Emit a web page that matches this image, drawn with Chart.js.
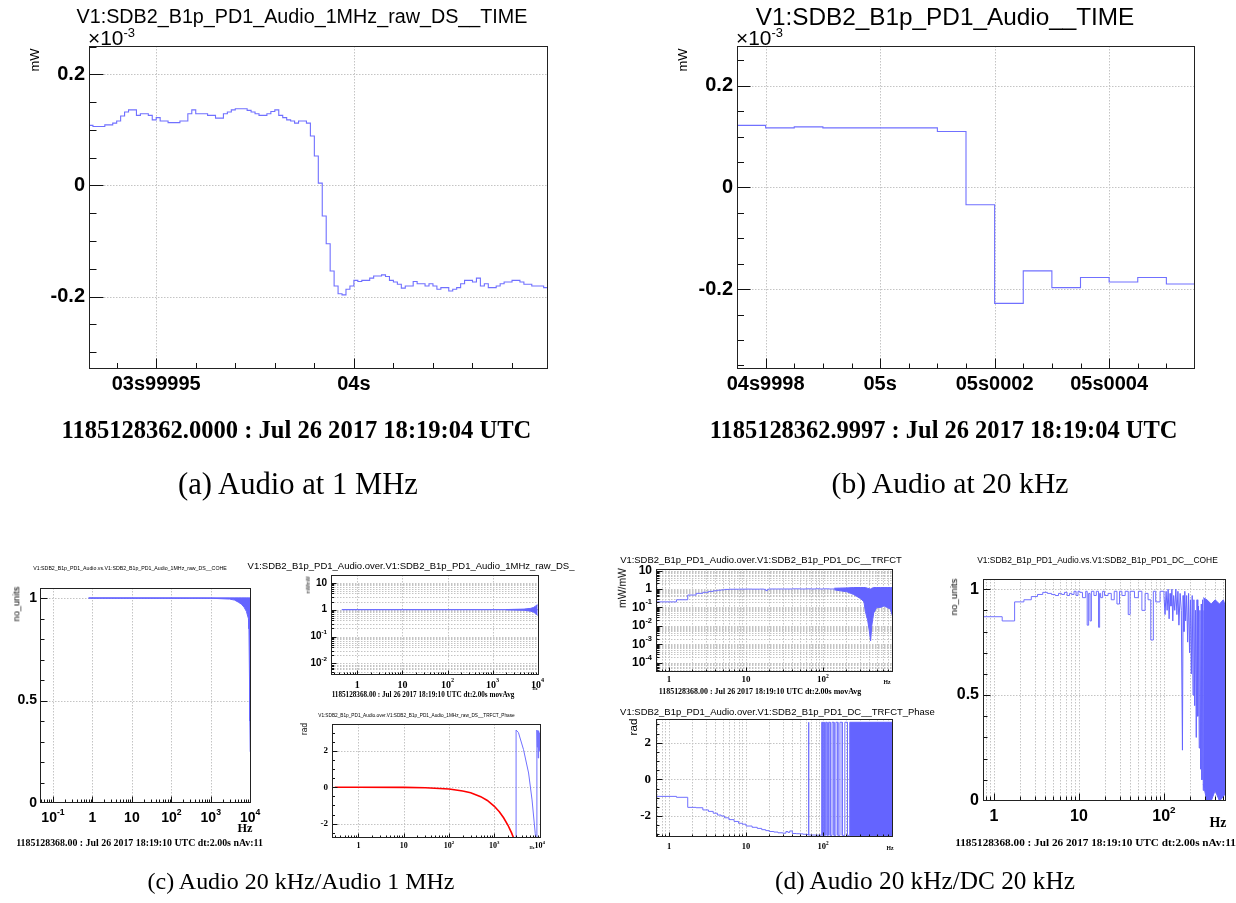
<!DOCTYPE html>
<html><head><meta charset="utf-8">
<script src="https://cdn.jsdelivr.net/npm/chart.js@4.4.1/dist/chart.umd.min.js"></script>
<style>
html,body{margin:0;padding:0;background:#fff}
body{width:1236px;height:903px;overflow:hidden;position:relative}
canvas{position:absolute;left:0;top:0}
.t{position:absolute;white-space:nowrap;line-height:1;color:#000}
.t sup{font-size:0.62em;vertical-align:0.62em;line-height:0}
</style></head><body>
<script>
// ---------------- DATA ----------------
// (a) Audio 1 MHz raw DS time series, 1 µs samples, time in µs relative to 04s
const aStartUs = -67;
const aStepUs = 1;
const aValues = [0.108,0.106,0.106,0.106,0.109,0.109,0.112,0.116,0.125,0.132,
0.136,0.136,0.126,0.129,0.129,0.126,0.118,0.122,0.116,0.116,
0.113,0.113,0.113,0.116,0.116,0.129,0.136,0.129,0.129,0.129,
0.126,0.126,0.121,0.121,0.129,0.132,0.136,0.138,0.138,0.138,
0.135,0.132,0.129,0.126,0.126,0.129,0.133,0.136,0.126,0.122,
0.118,0.116,0.112,0.116,0.116,0.112,0.089,0.053,0.004,-0.055,
-0.105,-0.154,-0.181,-0.195,-0.197,-0.187,-0.181,-0.171,-0.173,-0.171,
-0.171,-0.167,-0.163,-0.163,-0.161,-0.164,-0.171,-0.174,-0.178,-0.185,
-0.181,-0.181,-0.173,-0.177,-0.177,-0.181,-0.177,-0.181,-0.187,-0.184,
-0.184,-0.190,-0.187,-0.184,-0.177,-0.171,-0.171,-0.174,-0.167,-0.181,
-0.177,-0.184,-0.184,-0.181,-0.177,-0.174,-0.174,-0.171,-0.171,-0.174,
-0.178,-0.178,-0.181,-0.181,-0.181,-0.184];
const aXTickVals = [-50, 0];
const aXTickLabels = ['03s99995', '04s'];
const aYTickVals = [0.2, 0, -0.2];
const aYTickLabels = ['0.2', '0', '-0.2'];

// (b) Audio 20 kHz time series, 50 µs bins, µs relative to 05s
const bStartUs = -250;
const bStepUs = 50;
const bValues = [0.122,0.117,0.119,0.117,0.117,0.117,0.117,0.110,-0.034,-0.228,-0.164,-0.197,-0.177,-0.186,-0.177,-0.190];
const bXTickVals = [-200, 0, 200, 400];
const bXTickLabels = ['04s9998', '05s', '05s0002', '05s0004'];
const bYTickVals = [0.2, 0, -0.2];
const bYTickLabels = ['0.2', '0', '-0.2'];

// (c) left: coherence Audio vs Audio 1MHz
const cCoheLineF = [0.8, 10000];
const cCoheLineV = [1, 1];
const cCoheEnvF  = [0.8, 1000, 3000, 4000, 5000, 6000, 7000, 8000, 9000, 9300, 9600, 9800, 10000];
const cCoheEnvLo = [1, 0.999, 0.995, 0.99, 0.98, 0.97, 0.955, 0.935, 0.9, 0.85, 0.6, 0.4, 0.25];
const cCoheEnvHi = [1, 1, 1, 1, 1, 1, 1, 1, 1, 1, 1, 1, 1];

// (c) right top: transfer function magnitude Audio / Audio 1MHz
const cMagLineF = [0.45, 10000];
const cMagLineV = [1, 1];
const cMagEnvF  = [2000, 5000, 7000, 8000, 9000, 9500, 10000];
const cMagEnvLo = [0.99, 0.95, 0.88, 0.82, 0.72, 0.65, 0.62];
const cMagEnvHi = [1.01, 1.05, 1.12, 1.2, 1.35, 1.5, 1.5];

// (c) right bottom: transfer function phase
const cPhaseRedF = [0.3, 1, 10, 30, 100, 200, 300, 500, 700, 1000, 1300, 1600, 2000, 2400, 2800, 3020];
const cPhaseRedV = [0, 0, -0.01, -0.03, -0.1, -0.21, -0.31, -0.52, -0.73, -1.05, -1.36, -1.68, -2.09, -2.51, -2.93, -3.14];
const cPhaseBlueF = [3020, 3020, 3400, 4400, 5700, 6800, 8000, 8500, 8700, 8700, 8900, 9100, 9300, 9500, 9700, 9900];
const cPhaseBlueV = [-3.14, 3.14, 3.0, 2.07, 0.78, -0.7, -2.55, -3.14, -3.14, 3.14, 2.2, 3.1, 1.6, 3.1, 2.0, 3.0];

// (d) left top: transfer function magnitude Audio / DC
const dMagF = [0.6, 1.25, 1.75, 2.25, 2.75, 3.25, 3.75, 4.25, 4.75, 5.25, 6, 8, 10, 12, 15, 17, 18, 19, 20, 25, 30, 40, 50, 60, 70, 80, 90, 100, 120, 140];
const dMagV = [0.2, 0.26, 0.47, 0.58, 0.66, 0.74, 0.8, 0.86, 0.9, 0.95, 0.97, 0.98, 0.99, 0.98, 0.99, 0.96, 0.82, 0.97, 1.0, 1.0, 1.0, 1.02, 1.0, 1.02, 1.0, 1.03, 1.0, 1.02, 1.0, 1.04];
const dMagEnvF  = [140, 205, 250, 308, 340, 355, 380, 400, 415, 430, 455, 500, 560, 620, 680, 750, 830];
const dMagEnvLo = [0.9, 0.7, 0.5, 0.3, 0.2, 0.06, 0.02, 0.005, 0.0015, 0.01, 0.05, 0.1, 0.1, 0.12, 0.1, 0.08, 0.02];
const dMagEnvHi = [1.1, 1.15, 1.2, 1.2, 1.2, 1.2, 1.1, 1.05, 1.0, 1.1, 1.2, 1.2, 1.2, 1.2, 1.2, 1.2, 1.2];

// (d) left bottom: transfer function phase Audio / DC
const dPhaseF = [0.6, 1.25, 1.75, 2.25, 2.75, 3.25, 3.75, 4.25, 4.75, 5.25, 6, 7, 8, 9, 10, 12, 14, 16, 18, 20, 23, 26, 30, 33, 35, 37, 40, 45, 50, 55, 60, 64, 80, 96];
const dPhaseV = [-0.93, -0.98, -1.53, -1.55, -1.67, -1.75, -1.85, -1.95, -2.0, -2.1, -2.2, -2.3, -2.4, -2.45, -2.55, -2.62, -2.68, -2.75, -2.8, -2.85, -2.88, -2.92, -2.94, -2.85, -2.9, -2.82, -2.96, -2.97, -2.98, -3.0, -3.02, -3.04, -3.05, -3.06];
const dPhaseSpikeF = [65];
const dPhaseWrapF = [96, 99, 101, 104, 108, 113, 118, 124, 131, 139, 147, 156, 166, 178, 192, 208, 222];
const dPhaseBandF = [222, 900];
const dPhaseBandLo = [-3.08, -3.08];
const dPhaseBandHi = [3.12, 3.12];

// (d) right: coherence Audio vs DC
const dCoheF = [0.74, 1.25, 1.75, 2.25, 2.75, 3.25, 3.75, 4.25, 4.75, 5.25, 5.75, 6.25, 6.75, 7.25, 7.75, 8.25, 8.75, 9.25, 9.75, 10.25, 11, 12, 12.5, 13, 13.5, 14, 15, 16, 17, 17.5, 18, 19, 20, 22, 24, 26, 28, 30, 32, 35, 38, 40, 45, 50, 55, 60, 65, 70, 75, 80, 90, 100];
const dCoheV = [0.87, 0.85, 0.94, 0.95, 0.965, 0.975, 0.985, 0.98, 0.975, 0.97, 0.98, 0.975, 0.985, 0.97, 0.98, 0.975, 0.99, 0.97, 0.99, 0.985, 0.96, 0.99, 0.83, 0.98, 0.85, 0.99, 0.97, 0.99, 0.82, 0.98, 0.96, 0.99, 0.97, 0.98, 0.95, 0.99, 0.93, 0.99, 0.97, 0.99, 0.88, 0.99, 0.96, 0.99, 0.9, 0.98, 0.95, 0.76, 0.99, 0.94, 0.99, 0.97];
const dCoheNoiseF = [100, 103, 106, 109, 112, 115, 118, 121, 124, 127, 130, 134, 138, 142, 146, 150, 155, 160, 165, 168, 172, 176, 180, 185, 190, 195, 200, 205, 210, 215, 220, 225, 230, 235, 240, 245, 250, 255, 260, 265, 270, 275, 280, 285, 290, 295];
const dCoheNoiseV = [0.97, 0.88, 0.99, 0.9, 1.0, 0.86, 0.98, 0.92, 1.0, 0.85, 0.97, 0.9, 1.0, 0.88, 0.99, 0.83, 0.98, 0.9, 0.24, 0.97, 0.8, 0.99, 0.85, 0.97, 0.75, 0.98, 0.7, 0.95, 0.6, 0.97, 0.5, 0.95, 0.45, 0.9, 0.3, 0.95, 0.4, 0.92, 0.25, 0.9, 0.15, 0.93, 0.1, 0.95, 0.05, 0.9];
const dCoheEnvF  = [290, 320, 360, 400, 450, 500, 545];
const dCoheEnvLo = [0.08, 0.0, 0.0, 0.05, 0.0, 0.02, 0.05];
const dCoheEnvHi = [0.96, 0.95, 0.93, 0.95, 0.93, 0.95, 0.9];

// ---------------- HELPERS ----------------
const W = 1236, H = 903;
const SANS = "'Liberation Sans', Arial, sans-serif";
const SERIF = "'Liberation Serif', 'Times New Roman', serif";
const BLUE = 'rgb(112,112,255)';
const FILLB = 'rgb(100,100,255)';

function pts(xs, ys) { return xs.map((x, i) => ({x, y: ys[i]})); }
function binPts(start, step, vals) {
  const p = vals.map((v, i) => ({x: start + i * step, y: v}));
  p.push({x: start + vals.length * step, y: vals[vals.length - 1]});
  return p;
}
function linTicks(min, max, step) {
  const a = [];
  for (let k = Math.ceil(min / step - 1e-9); k * step <= max + 1e-9; k++) a.push(+(k * step).toFixed(10));
  return a;
}
function logMajor(lo, hi) {
  const a = [];
  for (let d = Math.ceil(Math.log10(lo) - 1e-9); d <= Math.floor(Math.log10(hi) + 1e-9); d++) a.push(Math.pow(10, d));
  return a;
}
function logMinor(lo, hi) {
  const a = [];
  for (let d = Math.floor(Math.log10(lo)) - 1; d <= Math.ceil(Math.log10(hi)); d++)
    for (let k = 2; k <= 9; k++) { const v = k * Math.pow(10, d); if (v >= lo && v <= hi) a.push(v); }
  return a;
}
function decLabel(v) {
  const e = Math.round(Math.log10(v));
  if (e === 0) return {t: '1'};
  if (e === 1) return {t: '10'};
  return {t: '10', e: String(e)};
}
function line(d, color, w, extra) {
  return Object.assign({data: d, borderColor: color, backgroundColor: color, borderWidth: w || 1, pointRadius: 0, fill: false, tension: 0}, extra || {});
}
function envelope(f, lo, hi, color) {
  return [line(pts(f, lo), color, 1), line(pts(f, hi), color, 1, {fill: '-1'})];
}

const rootDecor = {
  id: 'rootDecor',
  beforeDatasetsDraw(chart, args, o) {
    const {ctx, chartArea: a} = chart;
    const x = chart.scales.x, y = chart.scales.y;
    ctx.save();
    ctx.strokeStyle = o.gridColor || '#c4c4c4';
    ctx.lineWidth = 1;
    ctx.setLineDash(o.gridDash || [1.5, 1.5]);
    ctx.beginPath();
    for (const v of (o.xGrid || [])) {
      const p = Math.round(x.getPixelForValue(v)) + 0.5;
      if (p <= a.left + 1 || p >= a.right - 1) continue;
      ctx.moveTo(p, a.top); ctx.lineTo(p, a.bottom);
    }
    for (const v of (o.yGrid || [])) {
      const p = Math.round(y.getPixelForValue(v)) + 0.5;
      if (p <= a.top + 1 || p >= a.bottom - 1) continue;
      ctx.moveTo(a.left, p); ctx.lineTo(a.right, p);
    }
    ctx.stroke();
    ctx.restore();
  },
  afterDatasetsDraw(chart, args, o) {
    const {ctx, chartArea: a} = chart;
    const x = chart.scales.x, y = chart.scales.y;
    const L = Math.round(a.left) + 0.5, R = Math.round(a.right) - 0.5, T = Math.round(a.top) + 0.5, B = Math.round(a.bottom) - 0.5;
    ctx.save();
    ctx.setLineDash([]);
    ctx.strokeStyle = '#111';
    ctx.lineWidth = 1;
    ctx.beginPath();
    const tk = o.tick;
    const drawX = (vals, len) => { for (const v of vals) { const p = Math.round(x.getPixelForValue(v)) + 0.5; if (p < L || p > R) continue; ctx.moveTo(p, B); ctx.lineTo(p, B - len); } };
    const drawY = (vals, len) => { for (const v of vals) { const p = Math.round(y.getPixelForValue(v)) + 0.5; if (p < T || p > B) continue; ctx.moveTo(L, p); ctx.lineTo(L + len, p); } };
    drawX(o.xMinor || [], tk.xMin); drawX(o.xMajor || [], tk.xMaj);
    drawY(o.yMinor || [], tk.yMin); drawY(o.yMajor || [], tk.yMaj);
    ctx.stroke();
    ctx.strokeStyle = '#222';
    ctx.strokeRect(L, T, R - L, B - T);
    ctx.fillStyle = '#000';
    ctx.textBaseline = 'middle';
    ctx.textAlign = 'left';
    const drawLbl = (lab, px, py, font, align) => {
      const base = `bold ${font.s}px ${font.f}`;
      const es = font.s * 0.62;
      const ef = `bold ${es}px ${font.f}`;
      ctx.font = base; const wb = ctx.measureText(lab.t).width;
      let we = 0;
      if (lab.e) { ctx.font = ef; we = ctx.measureText(lab.e).width; }
      const tot = wb + we;
      const x0 = align === 'right' ? px - tot : px - tot / 2;
      ctx.font = base; ctx.fillText(lab.t, x0, py);
      if (lab.e) { ctx.font = ef; ctx.fillText(lab.e, x0 + wb, py - font.s * 0.42); }
    };
    for (const lab of (o.xLabels || [])) drawLbl(lab, x.getPixelForValue(lab.v), o.xLabelY, o.xFont, 'center');
    for (const lab of (o.yLabels || [])) drawLbl(lab, o.yLabelX, y.getPixelForValue(lab.v), o.yFont, 'right');
    ctx.restore();
  }
};

function makeChart(frame, xs, ys, datasets, decor) {
  const c = document.createElement('canvas');
  c.width = W; c.height = H;
  c.style.width = W + 'px'; c.style.height = H + 'px';
  document.body.appendChild(c);
  return new Chart(c, {
    type: 'line',
    data: {datasets},
    options: {
      responsive: false, animation: false, devicePixelRatio: 1, events: [],
      layout: {padding: {left: frame.l, top: frame.t, right: W - frame.r, bottom: H - frame.b}},
      plugins: {legend: {display: false}, tooltip: {enabled: false}, title: {display: false}, rootDecor: decor},
      elements: {point: {radius: 0}, line: {tension: 0}},
      scales: {
        x: Object.assign({display: false, bounds: 'data'}, xs),
        y: Object.assign({display: false, bounds: 'data'}, ys)
      }
    },
    plugins: [rootDecor]
  });
}

// ---------------- PANEL (a) ----------------
{
  const xr = [-67, 49.1], yr = [-0.3305, 0.2509];
  makeChart({l: 89, t: 46, r: 548, b: 369},
    {type: 'linear', min: xr[0], max: xr[1]}, {type: 'linear', min: yr[0], max: yr[1]},
    [line(binPts(aStartUs, aStepUs, aValues), BLUE, 1.1, {stepped: true})],
    {
      xMajor: aXTickVals, xMinor: linTicks(xr[0], xr[1], 10), xGrid: aXTickVals,
      yMajor: aYTickVals, yMinor: linTicks(yr[0], yr[1], 0.05), yGrid: aYTickVals,
      xLabels: aXTickVals.map((v, i) => ({v, t: aXTickLabels[i]})), xLabelY: 384, xFont: {s: 20, f: SANS},
      yLabels: aYTickVals.map((v, i) => ({v, t: aYTickLabels[i]})), yLabelX: 85, yFont: {s: 20, f: SANS},
      tick: {xMaj: 10, xMin: 5.5, yMaj: 14, yMin: 7}
    });
}
// ---------------- PANEL (b) ----------------
{
  const xr = [-250, 550], yr = [-0.357, 0.278];
  makeChart({l: 737, t: 46, r: 1195, b: 369},
    {type: 'linear', min: xr[0], max: xr[1]}, {type: 'linear', min: yr[0], max: yr[1]},
    [line(binPts(bStartUs, bStepUs, bValues), BLUE, 1.1, {stepped: true})],
    {
      xMajor: bXTickVals, xMinor: linTicks(xr[0], xr[1], 50), xGrid: bXTickVals,
      yMajor: bYTickVals, yMinor: linTicks(yr[0], yr[1], 0.05), yGrid: bYTickVals,
      xLabels: bXTickVals.map((v, i) => ({v, t: bXTickLabels[i]})), xLabelY: 384, xFont: {s: 20, f: SANS},
      yLabels: bYTickVals.map((v, i) => ({v, t: bYTickLabels[i]})), yLabelX: 733, yFont: {s: 20, f: SANS},
      tick: {xMaj: 10, xMin: 5, yMaj: 13, yMin: 6.5}
    });
}
// ---------------- PANEL (c) left: coherence ----------------
{
  const xr = [Math.pow(10, -1.33), Math.pow(10, 4.02)], yr = [0, 1.049];
  const maj = logMajor(xr[0], xr[1]);
  makeChart({l: 40, t: 588, r: 251, b: 803},
    {type: 'logarithmic', min: xr[0], max: xr[1]}, {type: 'linear', min: yr[0], max: yr[1]},
    [...envelope(cCoheEnvF, cCoheEnvLo, cCoheEnvHi, FILLB), line(pts(cCoheLineF, cCoheLineV), BLUE, 1)],
    {
      xMajor: maj, xMinor: logMinor(xr[0], xr[1]), xGrid: maj,
      yMajor: [0, 0.5, 1], yMinor: linTicks(0, 1.04, 0.1), yGrid: [0.5, 1],
      xLabels: maj.map(v => Object.assign({v}, v === 0.1 ? {t: '10', e: '-1'} : decLabel(v))), xLabelY: 818, xFont: {s: 14, f: SANS},
      yLabels: [{v: 1, t: '1'}, {v: 0.5, t: '0.5'}, {v: 0, t: '0'}], yLabelX: 37, yFont: {s: 14, f: SANS},
      tick: {xMaj: 6, xMin: 3, yMaj: 7, yMin: 4}
    });
}
// ---------------- PANEL (c) right top: TF magnitude ----------------
{
  const xr = [Math.pow(10, -0.585), Math.pow(10, 4.03)], yr = [Math.pow(10, -2.43), Math.pow(10, 1.29)];
  const mx = logMajor(xr[0], xr[1]), my = logMajor(yr[0], yr[1]);
  makeChart({l: 331, t: 575, r: 539, b: 675},
    {type: 'logarithmic', min: xr[0], max: xr[1]}, {type: 'logarithmic', min: yr[0], max: yr[1]},
    [...envelope(cMagEnvF, cMagEnvLo, cMagEnvHi, FILLB), line(pts(cMagLineF, cMagLineV), BLUE, 1.2)],
    {
      xMajor: mx, xMinor: logMinor(xr[0], xr[1]), xGrid: mx,
      yMajor: my, yMinor: logMinor(yr[0], yr[1]), yGrid: my.concat(logMinor(yr[0], yr[1])),
      xLabels: mx.map(v => Object.assign({v}, decLabel(v))), xLabelY: 685, xFont: {s: 10, f: SERIF},
      yLabels: my.map(v => Object.assign({v}, v === 0.1 ? {t: '10', e: '-1'} : v === 0.01 ? {t: '10', e: '-2'} : decLabel(v))), yLabelX: 327, yFont: {s: 10, f: SANS},
      tick: {xMaj: 4, xMin: 2, yMaj: 5, yMin: 2.5}
    });
}
// ---------------- PANEL (c) right bottom: TF phase ----------------
{
  const xr = [Math.pow(10, -0.585), Math.pow(10, 4.03)], yr = [-2.79, 3.47];
  const mx = logMajor(xr[0], xr[1]);
  makeChart({l: 332, t: 724, r: 541, b: 838},
    {type: 'logarithmic', min: xr[0], max: xr[1]}, {type: 'linear', min: yr[0], max: yr[1]},
    [line(pts(cPhaseBlueF, cPhaseBlueV), BLUE, 1), line(pts(cPhaseRedF, cPhaseRedV), 'rgb(255,0,0)', 1.6)],
    {
      xMajor: mx, xMinor: logMinor(xr[0], xr[1]), xGrid: mx,
      yMajor: [-2, 0, 2], yMinor: linTicks(yr[0], yr[1], 0.5), yGrid: [-2, 0, 2],
      xLabels: mx.map(v => Object.assign({v}, decLabel(v))), xLabelY: 846, xFont: {s: 8, f: SERIF},
      yLabels: [{v: 2, t: '2'}, {v: 0, t: '0'}, {v: -2, t: '-2'}], yLabelX: 328, yFont: {s: 9, f: SERIF},
      tick: {xMaj: 4, xMin: 2, yMaj: 5, yMin: 2.5}
    });
}
// ---------------- PANEL (d) left top: TF magnitude ----------------
{
  const xr = [Math.pow(10, -0.169), Math.pow(10, 2.909)], yr = [Math.pow(10, -4.51), Math.pow(10, 1.087)];
  const mx = logMajor(xr[0], xr[1]), my = logMajor(yr[0], yr[1]);
  const mnx = logMinor(xr[0], xr[1]), mny = logMinor(yr[0], yr[1]);
  makeChart({l: 656, t: 569, r: 893, b: 672},
    {type: 'logarithmic', min: xr[0], max: xr[1]}, {type: 'logarithmic', min: yr[0], max: yr[1]},
    [...envelope(dMagEnvF, dMagEnvLo, dMagEnvHi, FILLB), line(pts(dMagF, dMagV), BLUE, 1, {stepped: true})],
    {
      xMajor: mx, xMinor: mnx, xGrid: mx.concat(mnx),
      yMajor: my, yMinor: mny, yGrid: my.concat(mny),
      xLabels: mx.map(v => Object.assign({v}, decLabel(v))), xLabelY: 680, xFont: {s: 9, f: SERIF},
      yLabels: my.map(v => Object.assign({v}, decLabel(v))), yLabelX: 652, yFont: {s: 12, f: SANS},
      tick: {xMaj: 4, xMin: 2, yMaj: 6, yMin: 3}
    });
}
// ---------------- PANEL (d) left bottom: TF phase ----------------
{
  const xr = [Math.pow(10, -0.169), Math.pow(10, 2.909)], yr = [-3.15, 3.3];
  const mx = logMajor(xr[0], xr[1]), mnx = logMinor(xr[0], xr[1]);
  const spikes = [];
  for (const f of dPhaseSpikeF) { spikes.push({x: f - 0.4, y: -3.04}, {x: f, y: 3.12}, {x: f + 0.4, y: -3.04}); }
  const wraps = [];
  let up = false;
  for (const f of dPhaseWrapF) { wraps.push({x: f, y: up ? 3.12 : -3.06}); up = !up; wraps.push({x: f, y: up ? 3.12 : -3.06}); }
  makeChart({l: 656, t: 719, r: 893, b: 837},
    {type: 'logarithmic', min: xr[0], max: xr[1]}, {type: 'linear', min: yr[0], max: yr[1]},
    [line(pts(dPhaseF, dPhaseV), BLUE, 1, {stepped: true}), line(spikes, BLUE, 1), line(wraps, BLUE, 1),
     ...envelope(dPhaseBandF, dPhaseBandLo, dPhaseBandHi, FILLB)],
    {
      xMajor: mx, xMinor: mnx, xGrid: mx.concat(mnx),
      yMajor: [-2, 0, 2], yMinor: linTicks(yr[0], yr[1], 0.5), yGrid: [-2, 0, 2],
      xLabels: mx.map(v => Object.assign({v}, decLabel(v))), xLabelY: 847, xFont: {s: 8.5, f: SERIF},
      yLabels: [{v: 2, t: '2'}, {v: 0, t: '0'}, {v: -2, t: '-2'}], yLabelX: 651, yFont: {s: 13, f: SERIF},
      tick: {xMaj: 4, xMin: 2, yMaj: 6, yMin: 3}
    });
}
// ---------------- PANEL (d) right: coherence ----------------
{
  const xr = [Math.pow(10, -0.129), Math.pow(10, 2.73)], yr = [0, 1.048];
  const mx = logMajor(xr[0], xr[1]), mnx = logMinor(xr[0], xr[1]);
  makeChart({l: 983, t: 579, r: 1226, b: 801},
    {type: 'logarithmic', min: xr[0], max: xr[1]}, {type: 'linear', min: yr[0], max: yr[1]},
    [line(pts(dCoheF, dCoheV), BLUE, 1, {stepped: true}), line(pts(dCoheNoiseF, dCoheNoiseV), FILLB, 1),
     ...envelope(dCoheEnvF, dCoheEnvLo, dCoheEnvHi, FILLB)],
    {
      xMajor: mx, xMinor: mnx, xGrid: mx.concat(mnx),
      yMajor: [0, 0.5, 1], yMinor: linTicks(0, 1.04, 0.1), yGrid: [0.5, 1],
      xLabels: mx.map(v => Object.assign({v}, decLabel(v))), xLabelY: 817, xFont: {s: 16, f: SANS},
      yLabels: [{v: 1, t: '1'}, {v: 0.5, t: '0.5'}, {v: 0, t: '0'}], yLabelX: 979, yFont: {s: 16, f: SANS},
      tick: {xMaj: 7, xMin: 4, yMaj: 7, yMin: 4}
    });
}

// ---------------- TEXT (HTML) ----------------
const texts = [
  {h: 'V1:SDB2_B1p_PD1_Audio_1MHz_raw_DS__TIME', x: 302, y: 17, w: 451, f: SANS},
  {h: 'V1:SDB2_B1p_PD1_Audio__TIME', x: 945, y: 17, w: 379, f: SANS},
  {h: '×10<sup>-3</sup>', x: 88, y: 38, w: 47, f: SANS, anchor: 'l'},
  {h: '×10<sup>-3</sup>', x: 736, y: 38, w: 47, f: SANS, anchor: 'l'},
  {h: 'mW', x: 34.5, y: 60, w: 23, f: SANS, rot: true},
  {h: 'mW', x: 683, y: 60, w: 23, f: SANS, rot: true},
  {h: '1185128362.0000 : Jul 26 2017 18:19:04 UTC', x: 296.4, y: 430, w: 470, f: SERIF, b: true},
  {h: '1185128362.9997 : Jul 26 2017 18:19:04 UTC', x: 943.5, y: 430, w: 468, f: SERIF, b: true},
  {h: '(a) Audio at 1 MHz', x: 298, y: 484, w: 240, f: SERIF},
  {h: '(b) Audio at 20 kHz', x: 950, y: 484, w: 237, f: SERIF},

  {h: 'V1:SDB2_B1p_PD1_Audio.vs.V1:SDB2_B1p_PD1_Audio_1MHz_raw_DS__COHE', x: 130, y: 569, w: 194, f: SANS},
  {h: 'no_units', x: 16.5, y: 604, w: 35, f: SANS, rot: true},
  {h: 'Hz', x: 245, y: 828, w: 15, f: SERIF, b: true},
  {h: '1185128368.00 : Jul 26 2017 18:19:10 UTC dt:2.00s nAv:11', x: 139.5, y: 843, w: 247, f: SERIF, b: true},
  {h: 'V1:SDB2_B1p_PD1_Audio.over.V1:SDB2_B1p_PD1_Audio_1MHz_raw_DS_', x: 411, y: 566, w: 327, f: SANS},
  {h: 'mW/mW', x: 309, y: 585, w: 17, f: SANS, rot: true},
  {h: '1185128368.00 : Jul 26 2017 18:19:10 UTC dt:2.00s movAvg', x: 423, y: 696, w: 183, f: SERIF, b: true},
  {h: 'Hz', x: 535, y: 689, w: 5, f: SERIF, b: true},
  {h: 'V1:SDB2_B1p_PD1_Audio.over.V1:SDB2_B1p_PD1_Audio_1MHz_raw_DS__TRFCT_Phase', x: 416.5, y: 716, w: 197, f: SANS},
  {h: 'rad', x: 303.5, y: 729, w: 12, f: SANS, rot: true},
  {h: 'Hz', x: 532, y: 848, w: 5, f: SERIF, b: true},
  {h: '(c) Audio 20 kHz/Audio 1 MHz', x: 301, y: 881, w: 307, f: SERIF},

  {h: 'V1:SDB2_B1p_PD1_Audio.over.V1:SDB2_B1p_PD1_DC__TRFCT', x: 761, y: 560, w: 282, f: SANS},
  {h: 'mW/mW', x: 623, y: 588, w: 40, f: SANS, rot: true},
  {h: 'Hz', x: 887, y: 683, w: 7, f: SERIF, b: true},
  {h: '1185128368.00 : Jul 26 2017 18:19:10 UTC dt:2.00s movAvg', x: 760, y: 692, w: 203, f: SERIF, b: true},
  {h: 'V1:SDB2_B1p_PD1_Audio.over.V1:SDB2_B1p_PD1_DC__TRFCT_Phase', x: 777.5, y: 712, w: 315, f: SANS},
  {h: 'rad', x: 633, y: 727, w: 17, f: SANS, rot: true},
  {h: 'Hz', x: 890, y: 849, w: 7, f: SERIF, b: true},
  {h: 'V1:SDB2_B1p_PD1_Audio.vs.V1:SDB2_B1p_PD1_DC__COHE', x: 1097.5, y: 560, w: 241, f: SANS},
  {h: 'no_units', x: 953.5, y: 597, w: 37, f: SANS, rot: true},
  {h: 'Hz', x: 1218, y: 823, w: 17, f: SERIF, b: true},
  {h: '1185128368.00 : Jul 26 2017 18:19:10 UTC dt:2.00s nAv:11', x: 1095.5, y: 843, w: 281, f: SERIF, b: true},
  {h: '(d) Audio 20 kHz/DC 20 kHz', x: 925, y: 881, w: 300, f: SERIF}
];
for (const t of texts) {
  const el = document.createElement('div');
  el.className = 't';
  el.innerHTML = t.h;
  el.style.fontFamily = t.f;
  el.style.fontWeight = t.b ? 'bold' : 'normal';
  el.style.fontSize = '40px';
  el.style.left = '0px'; el.style.top = '0px';
  document.body.appendChild(el);
  const nat = el.getBoundingClientRect().width;
  el.style.fontSize = (40 * t.w / nat) + 'px';
  el.style.left = t.x + 'px';
  el.style.top = t.y + 'px';
  if (t.anchor === 'l') el.style.transform = 'translate(0,-50%)';
  else el.style.transform = 'translate(-50%,-50%)' + (t.rot ? ' rotate(-90deg)' : '');
}
</script>
</body></html>
